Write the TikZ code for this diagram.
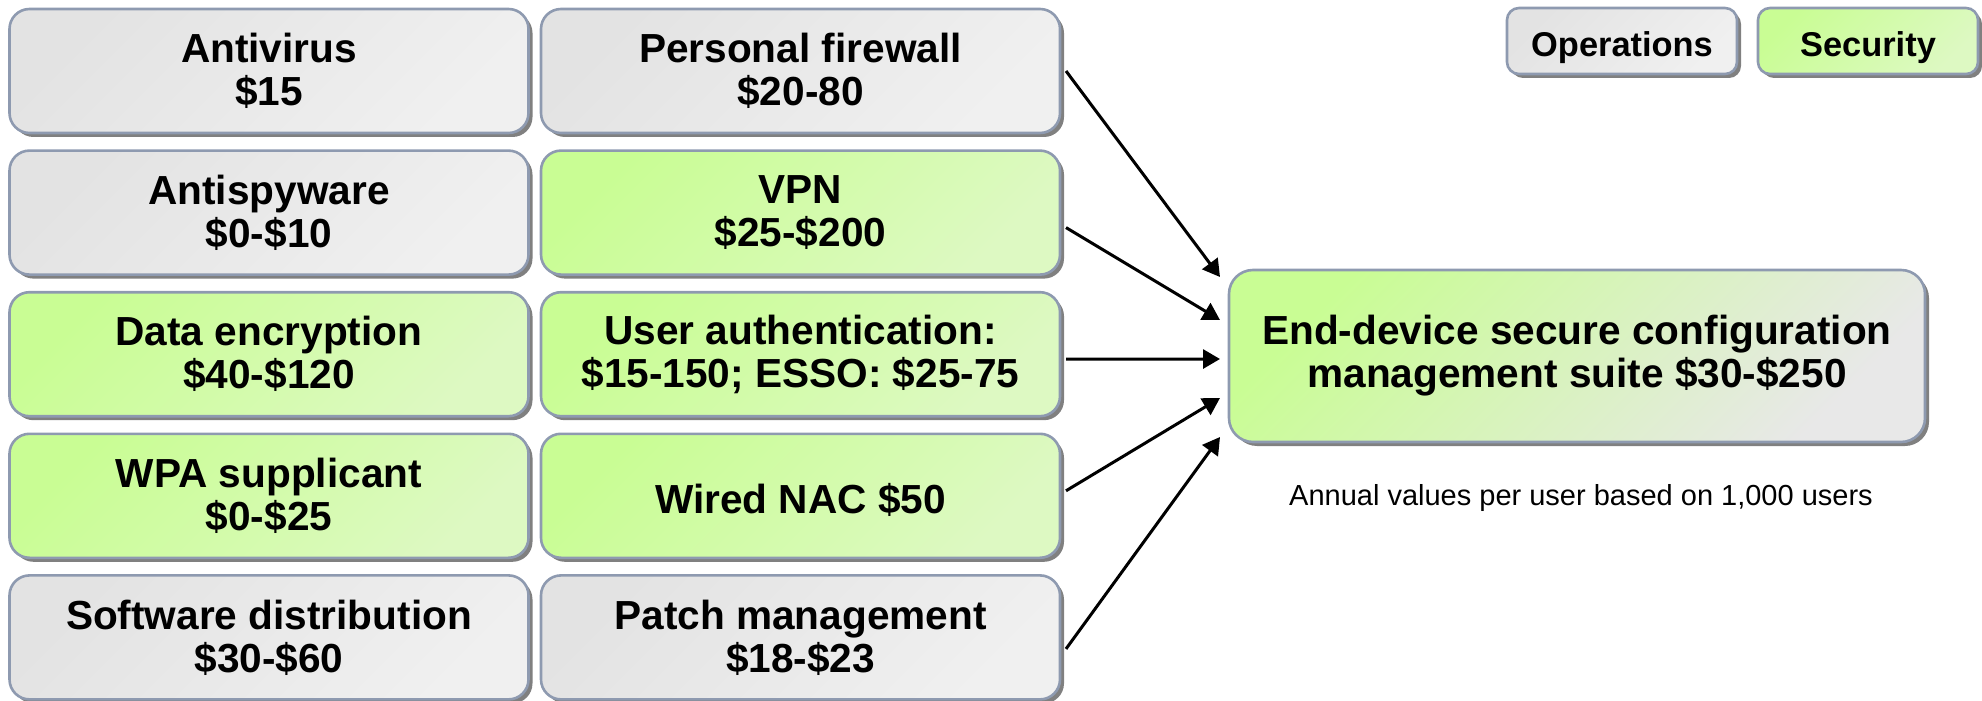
\documentclass[tikz,border=0pt]{standalone}
\usepackage{fontspec}
\setmainfont{Liberation Sans}
\usepackage{tikz}
\usetikzlibrary{positioning,arrows.meta,shadows}

\definecolor{rim}{HTML}{8E9AB0}
\definecolor{shade}{HTML}{808080}
\definecolor{opsA}{HTML}{E3E3E3}
\definecolor{opsB}{HTML}{F0F0F0}
\definecolor{secA}{HTML}{C9FD94}
\definecolor{secB}{HTML}{DDF9C2}
\definecolor{suiteB}{HTML}{E8E8E8}

\begin{document}
\begin{tikzpicture}[
    font=\bfseries\fontsize{20.3pt}{21.5pt}\selectfont,
    >={Triangle[length=8.5pt,width=9.5pt]},
    cell/.style={rectangle, rounded corners=10pt, draw=rim, line width=1.3pt,
      minimum width=259.5pt, minimum height=62pt, align=center, inner sep=2pt, outer sep=0pt,
      execute at begin node=\rule{0pt}{19pt},
      drop shadow={shadow xshift=2pt, shadow yshift=-2pt, fill=shade, opacity=1}},
    ops/.style={cell, top color=opsA, bottom color=opsB, shading angle=45},
    sec/.style={cell, top color=secA, bottom color=secB, shading angle=45},
    legendbox/.style={minimum height=33pt, rounded corners=6pt,
      execute at begin node=\rule{0pt}{18.7pt},
      font=\bfseries\fontsize{17.2pt}{19pt}\selectfont},
    flow/.style={->, line width=1.5pt, draw=black},
    note/.style={font=\fontsize{14.5pt}{16pt}\selectfont}
  ]
  \useasboundingbox (0,0) rectangle (991pt,-350.5pt);

  % first column
  \node[ops] (av) at (134.5pt,-35.5pt) {Antivirus\\\$15};
  \node[ops, below=8.8pt of av] (asw) {Antispyware\\\$0-\$10};
  \node[sec, below=8.8pt of asw] (enc) {Data encryption\\\$40-\$120};
  \node[sec, below=8.8pt of enc] (wpa) {WPA supplicant\\\$0-\$25};
  \node[ops, below=8.8pt of wpa] (swd) {Software distribution\\\$30-\$60};

  % second column
  \node[ops, right=6.25pt of av] (fw) {Personal firewall\\\$20-80};
  \node[sec, right=6.25pt of asw] (vpn) {VPN\\\$25-\$200};
  \node[sec, right=6.25pt of enc] (ua) {User authentication:\\\$15-150; ESSO: \$25-75};
  \node[sec, right=6.25pt of wpa] (nac) {Wired NAC \$50};
  \node[ops, right=6.25pt of swd] (patch) {Patch management\\\$18-\$23};

  % target suite
  \node[cell, minimum width=348pt, minimum height=86pt, rounded corners=12pt,
    top color=secA, bottom color=suiteB, shading angle=45] (suite) at (788.5pt,-178pt)
    {End-device secure configuration\\management suite \$30-\$250};
  \node[note] (annual) at (790.5pt,-249pt) {Annual values per user based on 1,000 users};

  % legend
  \node[ops, legendbox, minimum width=115pt] (lops) at (811pt,-20.5pt) {Operations};
  \node[sec, legendbox, minimum width=110pt, right=10.5pt of lops] (lsec) {Security};

  \draw[flow] ([xshift=3pt]fw.east) -- ([shift={(-4.5pt,39.5pt)}]suite.west);
  \draw[flow] ([shift={(3pt,-7.5pt)}]vpn.east) -- ([shift={(-4.5pt,18pt)}]suite.west);
  \draw[flow] ([shift={(3pt,-2.5pt)}]ua.east) -- ([shift={(-4.5pt,-1.5pt)}]suite.west);
  \draw[flow] ([shift={(3pt,2.5pt)}]nac.east) -- ([shift={(-4.5pt,-21pt)}]suite.west);
  \draw[flow] ([shift={(3pt,-5.75pt)}]patch.east) -- ([shift={(-4.5pt,-40.5pt)}]suite.west);
\end{tikzpicture}
\end{document}
